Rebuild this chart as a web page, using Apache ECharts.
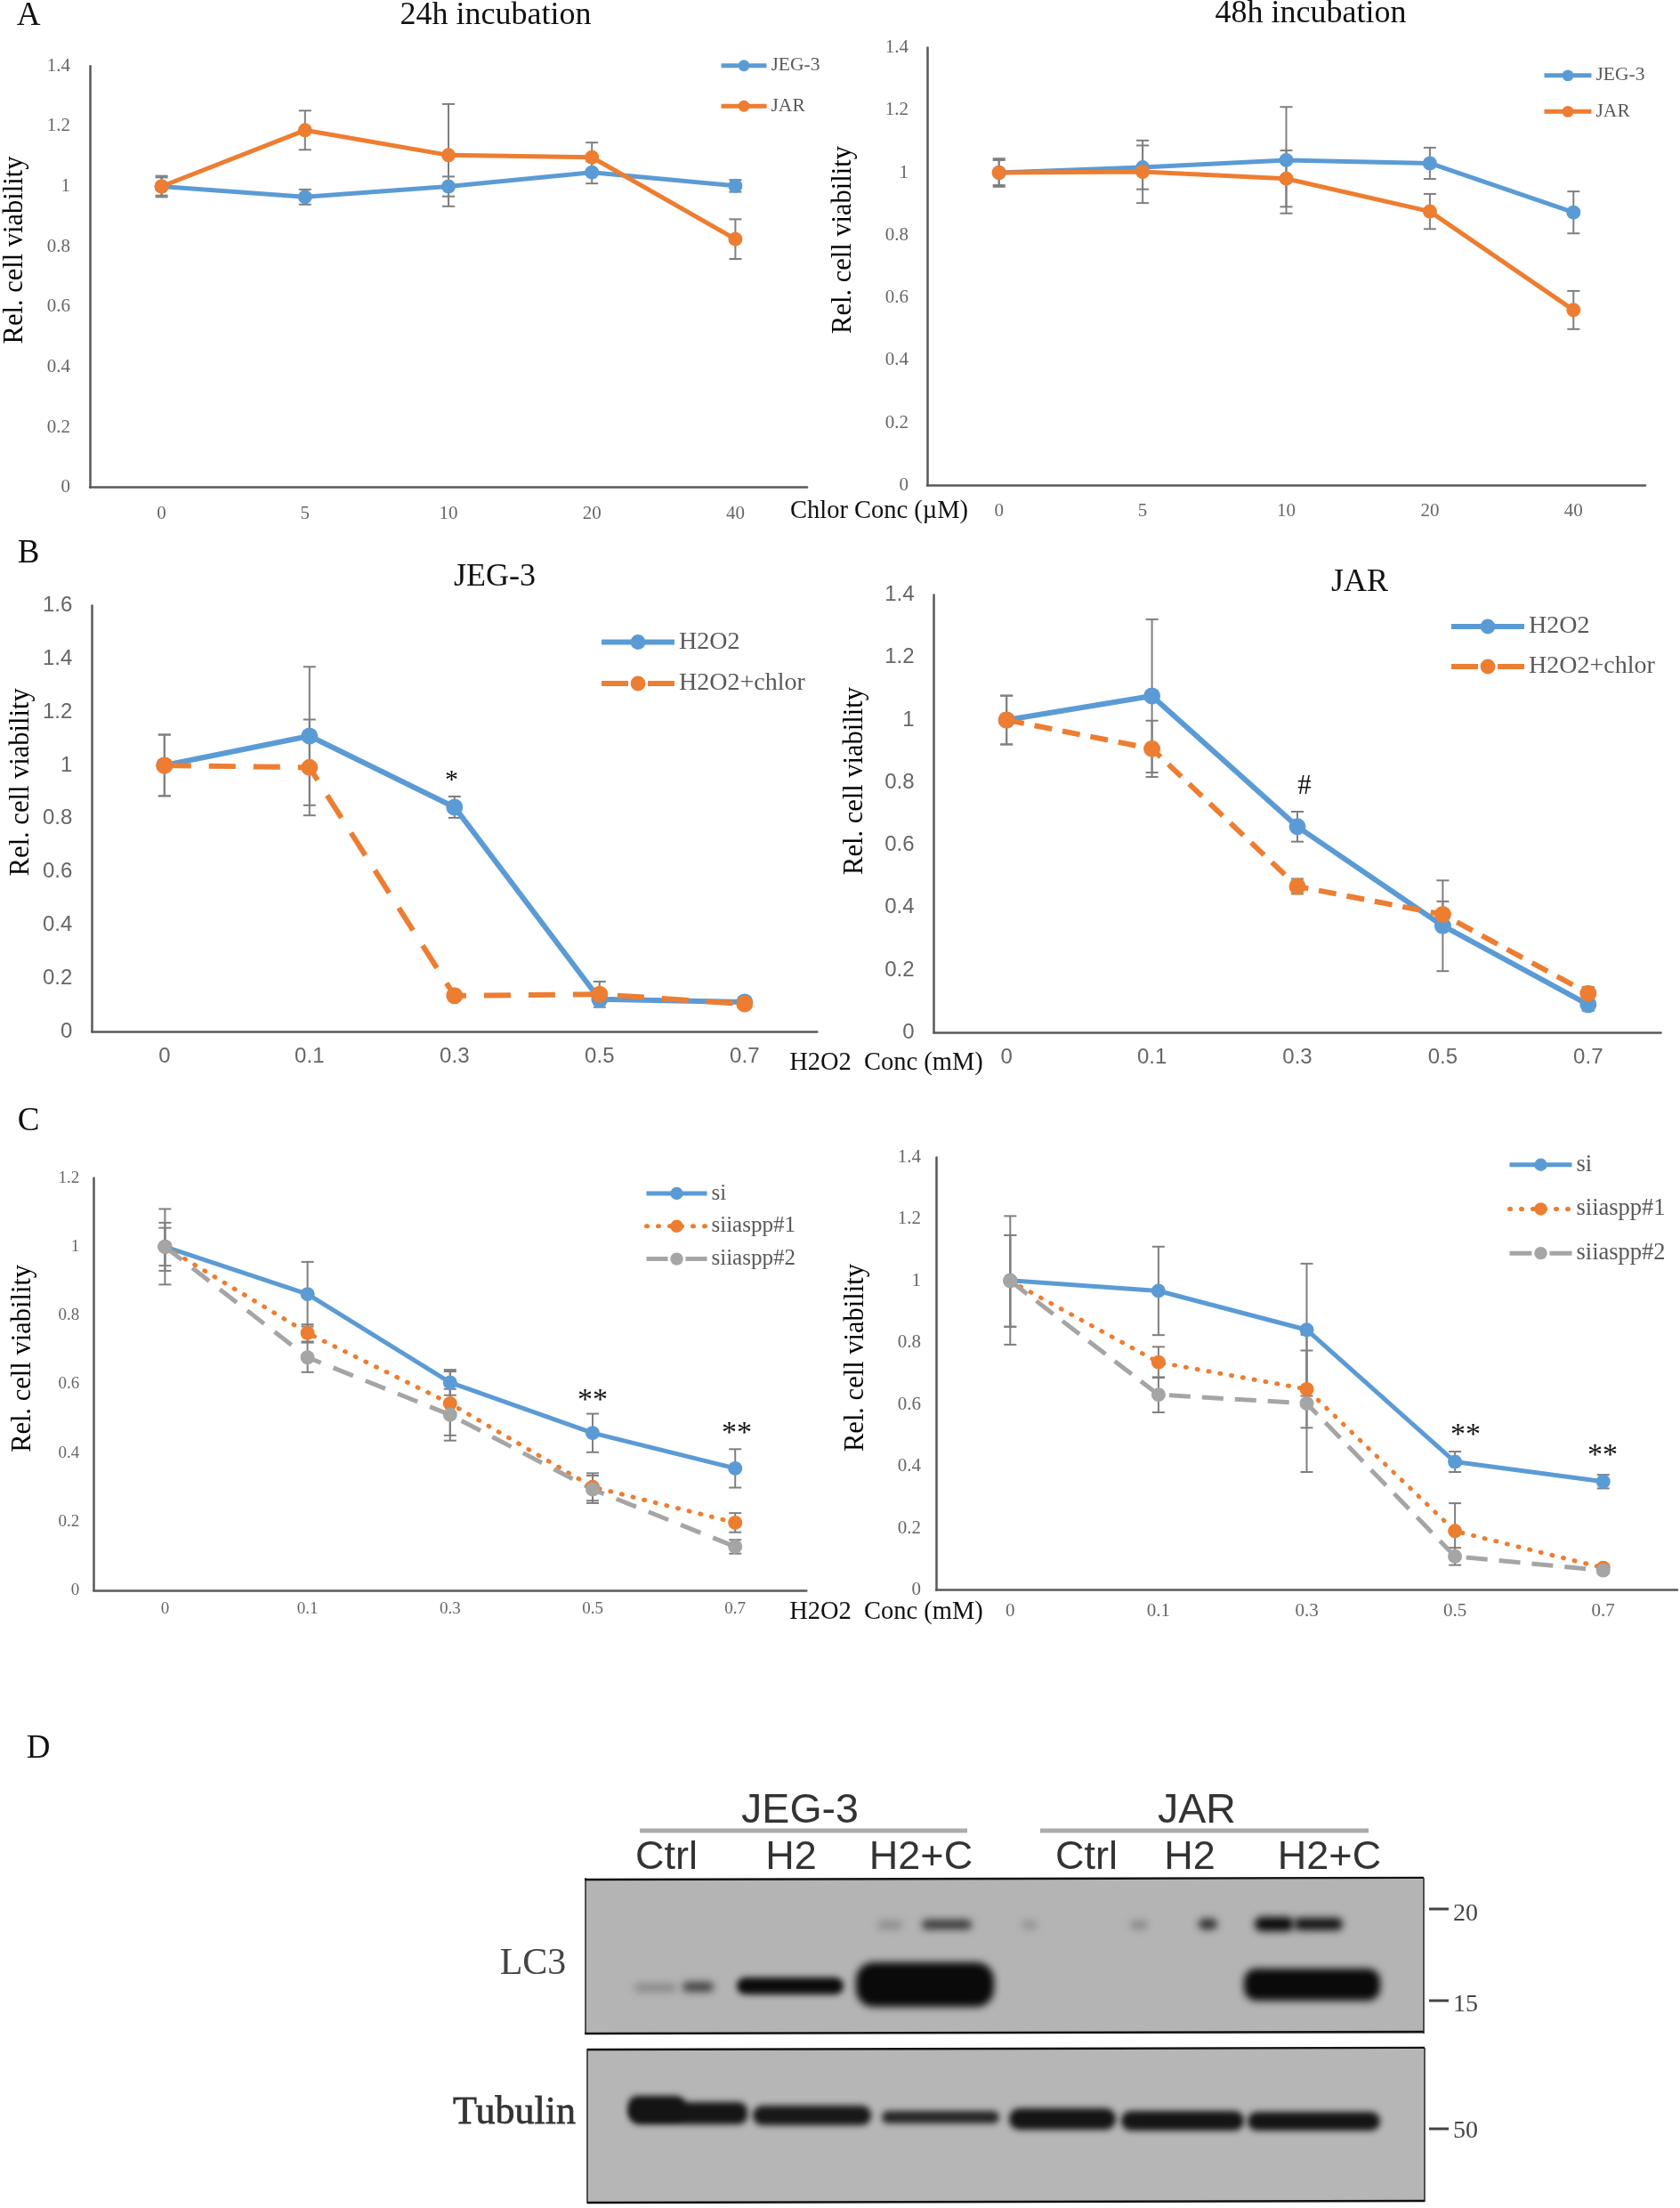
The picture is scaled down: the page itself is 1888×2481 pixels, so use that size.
<!DOCTYPE html>
<html><head><meta charset="utf-8"><style>html,body{margin:0;padding:0;background:#fff}#c{width:1888px;height:2481px}</style>
<script src="https://cdn.jsdelivr.net/npm/echarts@6/dist/echarts.min.js"></script></head><body><div id="c"></div>
<script>
// ---- data ----
const chlorCats = ['0','5','10','20','40'];
const h2o2Cats = ['0','0.1','0.3','0.5','0.7'];
const a1Jeg = [1.0,0.965,1.0,1.047,1.002];
const a1JegErr = [0.035,0.025,0.033,0.037,0.02];
const a1Jar = [1.0,1.187,1.104,1.097,0.825];
const a1JarErr = [0.03,0.065,0.17,0.049,0.066];
const a2Jeg = [1.0,1.017,1.04,1.03,0.873];
const a2JegErr = [0.045,0.07,0.17,0.05,0.067];
const a2Jar = [1.0,1.003,0.981,0.876,0.561];
const a2JarErr = [0.04,0.1,0.09,0.056,0.061];
const b1H = [1.0,1.11,0.843,0.122,0.111];
const b1HErr = [0.115,0.26,0.04,0.02,0.01];
const b1C = [1.0,0.992,0.135,0.14,0.104];
const b1CErr = [0.115,0.18,0.01,0.048,0.01];
const b2H = [1.0,1.077,0.659,0.342,0.09];
const b2HErr = [0.078,0.245,0.048,0.145,0.02];
const b2C = [1.0,0.908,0.468,0.378,0.126];
const b2CErr = [0.078,0.09,0.024,0.042,0.02];
const c1Si = [1.0,0.862,0.605,0.458,0.355];
const c1SiErr = [0.11,0.094,0.037,0.056,0.056];
const c1S1 = [1.0,0.749,0.544,0.301,0.197];
const c1S1Err = [0.07,0.025,0.093,0.04,0.028];
const c1S2 = [1.0,0.678,0.511,0.294,0.127];
const c1S2Err = [0.055,0.043,0.075,0.04,0.02];
const c2Si = [1.002,0.968,0.842,0.415,0.351];
const c2SiErr = [0.208,0.143,0.214,0.033,0.022];
const c2S1 = [1.0,0.737,0.65,0.191,0.072];
const c2S1Err = [0.148,0.05,0.125,0.09,0.01];
const c2S2 = [1.0,0.632,0.604,0.109,0.064];
const c2S2Err = [0.148,0.057,0.222,0.028,0.01];

const BLUE='#5B9BD5', ORANGE='#ED7D31', GREY='#A5A5A5';
const SERIF='"Liberation Serif"', SANS='"Liberation Sans"';
const st=(color,type,legType,cap)=>({color,type,legType:legType||type,cap:cap||'butt'});
const dotO=st(ORANGE,[1,12],[1,12],'round');

const panels=[
 {grid:[100,74.3,807,473.3],cats:chlorCats,max:1.4,lab:{font:SERIF,size:21,xm:19,ym:22},nameGap:69,nameShift:30,lw:5,ms:16,
  series:[['JEG-3',a1Jeg,a1JegErr,st(BLUE,'solid')],['JAR',a1Jar,a1JarErr,st(ORANGE,'solid')]],
  leg:{left:808,y:73.5,w:51,gap:45,font:21.5,ih:16}},
 {grid:[1042,53.4,807,492.2],cats:chlorCats,max:1.4,lab:{font:SERIF,size:21,xm:18,ym:21},nameGap:79,nameShift:30,lw:5,ms:16,
  series:[['JEG-3',a2Jeg,a2JegErr,st(BLUE,'solid')],['JAR',a2Jar,a2JarErr,st(ORANGE,'solid')]],
  leg:{left:1733,y:84.6,w:53,gap:40,font:21.5,ih:16}},
 {grid:[103.3,680.4,815,478.8],cats:h2o2Cats,max:1.6,lab:{font:SANS,size:24,xm:16,ym:22},nameGap:64,nameShift:41,lw:6,ms:19,
  series:[['H2O2',b1H,b1HErr,st(BLUE,'solid')],['H2O2+chlor',b1C,b1CErr,st(ORANGE,[30,20],[30,22])]],
  leg:{left:673,y:721.5,w:82,gap:46.5,font:28,ih:21}},
 {grid:[1049.5,668.5,817,491.9],cats:h2o2Cats,max:1.4,lab:{font:SANS,size:24,xm:16,ym:22},nameGap:73,nameShift:37,lw:6,ms:19,
  series:[['H2O2',b2H,b2HErr,st(BLUE,'solid')],['H2O2+chlor',b2C,b2CErr,st(ORANGE,[20,12],[30,22])]],
  leg:{left:1628,y:704,w:82,gap:45,font:28,ih:21}},
 {grid:[105.3,1323.7,801,463.3],cats:h2o2Cats,max:1.2,lab:{font:SERIF,size:19,xm:12,ym:16},nameGap:64,nameShift:29,lw:5,ms:16,
  series:[['si',c1Si,c1SiErr,st(BLUE,'solid')],['siiaspp#1',c1S1,c1S1Err,dotO],['siiaspp#2',c1S2,c1S2Err,st(GREY,[24,15],[24,20])]],
  leg:{left:724,y:1341,w:68,gap:36.8,font:25,ih:18}},
 {grid:[1052,1300.4,833,486.3],cats:h2o2Cats,max:1.4,lab:{font:SERIF,size:21,xm:13,ym:17},nameGap:75,nameShift:18,lw:5,ms:16,
  series:[['si',c2Si,c2SiErr,st(BLUE,'solid')],['siiaspp#1',c2S1,c2S1Err,dotO],['siiaspp#2',c2S2,c2S2Err,st(GREY,[24,13],[25,20])]],
  leg:{left:1694,y:1308.5,w:70,gap:49.2,font:26.5,ih:18}}
];

const grids=[],xAxes=[],yAxes=[],series=[],legends=[];
panels.forEach((p,i)=>{
  grids.push({left:p.grid[0],top:p.grid[1],width:p.grid[2],height:p.grid[3],containLabel:false});
  xAxes.push({type:'category',gridIndex:i,data:p.cats,boundaryGap:true,
    axisLine:{lineStyle:{color:'#595959',width:2.5}},axisTick:{show:false},
    axisLabel:{fontFamily:p.lab.font,fontSize:p.lab.size,color:'#666',margin:p.lab.xm}});
  yAxes.push({type:'value',gridIndex:i,min:0,max:p.max,interval:0.2,
    axisLine:{show:true,lineStyle:{color:'#595959',width:2.5}},axisTick:{show:false},splitLine:{show:false},
    axisLabel:{fontFamily:p.lab.font,fontSize:p.lab.size,color:'#666',margin:p.lab.ym},
    name:'Rel. cell viability',nameLocation:'middle',nameGap:p.nameGap,
    nameTextStyle:{fontFamily:SERIF,fontSize:30.5,color:'#000',padding:[0,0,0,p.nameShift*2]}});
  p.series.forEach(s=>{
    const vals=s[1],err=s[2],sty=s[3];
    series.push({type:'custom',name:'err',xAxisIndex:i,yAxisIndex:i,z:3,clip:false,silent:true,
      data:vals.map((v,k)=>[k,v-err[k],v+err[k]]),encode:{x:0,y:[1,2]},
      renderItem(params,api){
        const a=api.coord([api.value(0),api.value(1)]),b=api.coord([api.value(0),api.value(2)]);
        const st2={stroke:'#7f7f7f',lineWidth:2,fill:null},hw=7;
        return {type:'group',children:[
          {type:'line',shape:{x1:a[0],y1:a[1],x2:b[0],y2:b[1]},style:st2},
          {type:'line',shape:{x1:a[0]-hw,y1:a[1],x2:a[0]+hw,y2:a[1]},style:st2},
          {type:'line',shape:{x1:b[0]-hw,y1:b[1],x2:b[0]+hw,y2:b[1]},style:st2}]};
      }});
    series.push({type:'line',name:s[0],xAxisIndex:i,yAxisIndex:i,z:4,data:vals,symbol:'circle',symbolSize:p.ms,showSymbol:true,
      smooth:false,animation:false,
      lineStyle:{color:sty.color,width:p.lw,type:sty.type,cap:sty.cap},itemStyle:{color:sty.color}});
  });
  const ih=p.leg.ih, rowH=Math.max(ih,p.leg.font);
  legends.push({orient:'vertical',left:p.leg.left,top:p.leg.y-rowH/2,itemWidth:p.leg.w,itemHeight:ih,itemGap:p.leg.gap-rowH,padding:0,
    align:'left',selectedMode:false,
    data:p.series.map(s=>({name:s[0],itemStyle:{color:s[3].color},lineStyle:{color:s[3].color,width:p.lw,type:s[3].legType,cap:s[3].cap}})),
    textStyle:{fontFamily:SERIF,fontSize:p.leg.font,color:'#595959'}});
});

// ---- text and blot decorations ----
const T=(x,y,text,size,o={})=>({type:'text',x,y,z:20,style:{text,fontFamily:o.font||SERIF,fontSize:size,fill:o.fill||'#111',align:'center',verticalAlign:'middle',fontWeight:o.weight||'normal',stroke:o.stroke,lineWidth:o.lw}});
// soft photographic band: only the blurred shadow of an off-canvas rect lands on the blot
const OFF=4000;
const band=(x1,y1,x2,y2,color,blur,r)=>({type:'rect',z:12,shape:{x:x1-OFF,y:y1,width:x2-x1,height:y2-y1,r:r===undefined?Math.min(y2-y1,x2-x1)/2:r},
  style:{fill:color,shadowColor:color,shadowBlur:blur,shadowOffsetX:OFF}});
const hline=(x1,y1,x2,y2,c,w)=>({type:'line',z:14,shape:{x1,y1,x2,y2},style:{stroke:c,lineWidth:w}});
const graphicEls=[
 T(32,18,'A',37),T(32,622,'B',37),T(32,1260,'C',37),T(43,1965,'D',37),
 T(557,18,'24h incubation',36),T(1473,16,'48h incubation',36),T(556,649,'JEG-3',36),T(1528,655,'JAR',36),
 T(988,575,'Chlor Conc (\u00b5M)',28.5),T(996,1195,'H2O2  Conc (mM)',28.5),T(996,1812,'H2O2  Conc (mM)',28.5),
 T(507.5,877,'*',30),T(1466,884,'#',31),
 T(666,1574,'**',34),T(828,1611,'**',34),T(1647,1613,'**',34),T(1801,1636,'**',34),
 // blot panels
 {type:'rect',z:10,shape:{x:658,y:2112,width:942,height:173},style:{fill:'#b4b4b4'}},
 {type:'rect',z:10,shape:{x:660,y:2303,width:941,height:171},style:{fill:'#b6b6b6'}},
 hline(657,2112,1600,2110,'#111',2.5),hline(657,2285,1600,2283,'#111',2.5),hline(658,2110,658,2286,'#222',1.5),hline(1600,2110,1600,2285,'#222',1.5),
 hline(660,2303,1601,2301,'#111',2.5),hline(660,2475,1601,2473,'#111',2.5),hline(660,2302,660,2476,'#222',1.5),hline(1601,2301,1601,2474,'#222',1.5),
 // LC3 upper bands
 band(986,2158,1014,2168,'#8e8e8e',9),band(1036,2157,1092,2168,'#3a3a3a',9),
 band(1148,2158,1166,2168,'#949494',9),band(1270,2158,1290,2168,'#8a8a8a',9),band(1347,2156,1368,2168,'#303030',8),
 band(1410,2154,1454,2170,'#0c0c0c',8),band(1454,2155,1509,2169,'#161616',8),
 // LC3 lower bands
 band(713,2229,760,2238,'#888',8),band(767,2227,802,2238,'#444',8),
 band(828,2222,948,2241,'#0c0c0c',7),
 band(962,2205,1117,2255,'#0a0a0a',9,20),
 band(1398,2212,1551,2248,'#0a0a0a',9,14),
 // Tubulin bands
 band(706,2355,770,2382,'#151515',7,10),band(708,2362,840,2387,'#151515',7,10),
 band(846,2366,979,2388,'#181818',7),band(991,2372,1123,2386,'#262626',7),
 band(1134,2369,1254,2393,'#151515',7),band(1260,2372,1398,2394,'#151515',7),band(1402,2373,1551,2394,'#151515',7),
 // blot labels
 T(899,2035,'JEG-3',46.5,{font:SANS,fill:'#333'}),T(1345,2035,'JAR',46.5,{font:SANS,fill:'#333'}),
 hline(719,2057,1087,2057,'#ababab',5),hline(1169,2057,1538,2057,'#ababab',5),
 T(749,2088,'Ctrl',45,{font:SANS,fill:'#333'}),T(889,2088,'H2',45,{font:SANS,fill:'#333'}),T(1035,2088,'H2+C',45,{font:SANS,fill:'#333'}),
 T(1221,2088,'Ctrl',45,{font:SANS,fill:'#333'}),T(1337,2088,'H2',45,{font:SANS,fill:'#333'}),T(1494,2088,'H2+C',45,{font:SANS,fill:'#333'}),
 T(599,2207,'LC3',42,{fill:'#444'}),T(578,2374,'Tubulin',44,{fill:'#333',stroke:'#444',lw:0.8}),
 hline(1606,2145,1628,2145,'#444',3),T(1647,2151,'20',28,{fill:'#444'}),
 hline(1606,2248,1628,2248,'#444',3),T(1647,2253,'15',28,{fill:'#444'}),
 hline(1606,2392,1628,2392,'#444',3),T(1647,2395,'50',28,{fill:'#444'})
];

const chart=echarts.init(document.getElementById('c'),null,{renderer:'canvas',width:1888,height:2481});
chart.setOption({animation:false,backgroundColor:'#fff',tooltip:{show:false},grid:grids,xAxis:xAxes,yAxis:yAxes,series,legend:legends,graphic:{elements:graphicEls}});
</script></body></html>
